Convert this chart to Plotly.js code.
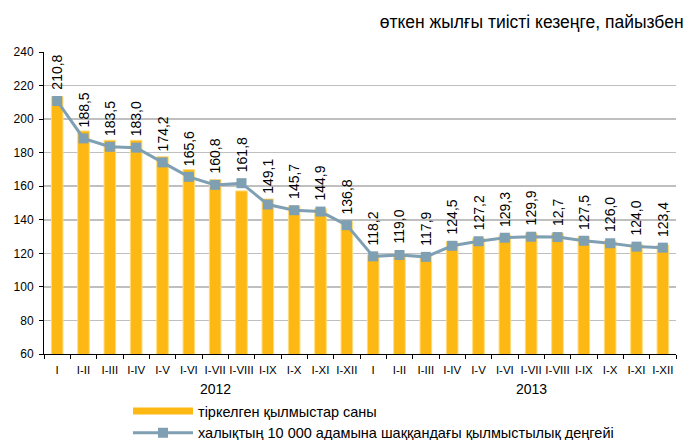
<!DOCTYPE html>
<html><head><meta charset="utf-8">
<script src="https://cdn.plot.ly/plotly-3.0.1.min.js"></script>
<style>body{margin:0;background:#fff}#chart{width:694px;height:440px}</style>
</head><body><div id="chart"></div>
<script>
const years = ['2012', '2013'];
const months = ['I','I-II','I-III','I-IV','I-V','I-VI','I-VII','I-VIII','I-IX','I-X','I-XI','I-XII'];
const crimesCount = [213.4, 192.9, 187.4, 187.4, 177.6, 169.9, 163.9, 157.2, 152.4, 148.2, 146.6, 138.9,
                     119.0, 120.0, 119.0, 127.0, 129.0, 131.0, 132.0, 132.0, 130.0, 127.5, 125.5, 125.0];
const crimeRate = [210.8, 188.5, 183.5, 183.0, 174.2, 165.6, 160.8, 161.8, 149.1, 145.7, 144.9, 136.8,
                   118.2, 119.0, 117.9, 124.5, 127.2, 129.3, 129.9, 129.7, 127.5, 126.0, 124.0, 123.4];
const rateLabels = ['210,8','188,5','183,5','183,0','174,2','165,6','160,8','161,8','149,1','145,7','144,9','136,8',
                    '118,2','119,0','117,9','124,5','127,2','129,3','129,9','12,7','127,5','126,0','124,0','123,4'];
const seriesNames = ['тіркелген қылмыстар саны', 'халықтың 10 000 адамына шаққандағы қылмыстылық деңгейі'];
const titleText = 'өткен жылғы тиісті кезеңге, пайызбен';

const barColor = '#FDB813';
const lineColor = '#7F9FB3';
const fontFam = 'Liberation Sans, Arial, sans-serif';

const cats = [], tickText = [];
years.forEach(y => months.forEach(m => { cats.push(y + ' ' + m); tickText.push(m); }));

const traces = [
  {type: 'bar', x: cats, y: crimesCount, name: seriesNames[0], showlegend: false,
   marker: {color: barColor, line: {color: '#FFDC7A', width: 1}}, hoverinfo: 'skip'},
  {type: 'scatter', mode: 'lines', x: [null], y: [null], name: seriesNames[0],
   line: {color: barColor, width: 7}, hoverinfo: 'skip'},
  {type: 'scatter', mode: 'lines+markers', x: cats, y: crimeRate, name: seriesNames[1],
   line: {color: lineColor, width: 3}, marker: {symbol: 'square', size: 10, color: lineColor}, hoverinfo: 'skip'}
];

const annotations = cats.map((c, i) => ({
  x: c, y: crimeRate[i], xref: 'x', yref: 'y', text: rateLabels[i], textangle: -90,
  yanchor: 'bottom', xanchor: 'center', yshift: 9, showarrow: false,
  font: {family: fontFam, size: 14, color: '#000'}
}));
years.forEach((y, k) => annotations.push({
  x: cats[k * months.length + 6], y: 0, xref: 'x', yref: 'paper', text: y,
  yanchor: 'middle', yshift: -35, showarrow: false, font: {family: fontFam, size: 14, color: '#000'}
}));

const layout = {
  width: 694, height: 440,
  margin: {l: 44, r: 18, t: 52, b: 86, autoexpand: false},
  paper_bgcolor: '#fff', plot_bgcolor: '#fff',
  font: {family: fontFam, color: '#000'},
  title: {text: titleText, xref: 'container', yref: 'container', x: 0.985, xanchor: 'right',
          y: 1 - 22 / 440, yanchor: 'middle', font: {family: fontFam, size: 17.5, color: '#000'}},
  bargap: 0.56,
  showlegend: true,
  legend: {xref: 'container', yref: 'container', x: 128 / 694, y: 1 - 395 / 440, xanchor: 'left', yanchor: 'top',
           itemwidth: 60, font: {family: fontFam, size: 14.5, color: '#000'}, bgcolor: 'rgba(0,0,0,0)',
           tracegroupgap: 0},
  xaxis: {type: 'category', range: [-0.5, cats.length - 0.5], tickvals: cats, ticktext: tickText, tickson: 'boundaries',
          ticks: 'outside', ticklen: 4, tickcolor: '#000', showline: true, linecolor: '#000', linewidth: 1,
          showgrid: false, tickfont: {family: fontFam, size: 11.5, color: '#000'}, tickangle: 0, ticklabelstandoff: 5},
  yaxis: {range: [60, 240], dtick: 20, tick0: 60, ticks: 'outside', ticklen: 4, tickcolor: '#000',
          showline: true, linecolor: '#000', linewidth: 1, showgrid: true, gridcolor: '#BFBFBF', gridwidth: 1.5,
          zeroline: false, tickfont: {family: fontFam, size: 12, color: '#000'}, ticklabelstandoff: 3},
  annotations: annotations
};

Plotly.newPlot('chart', traces, layout, {displayModeBar: false, staticPlot: true});
</script>
</body></html>
